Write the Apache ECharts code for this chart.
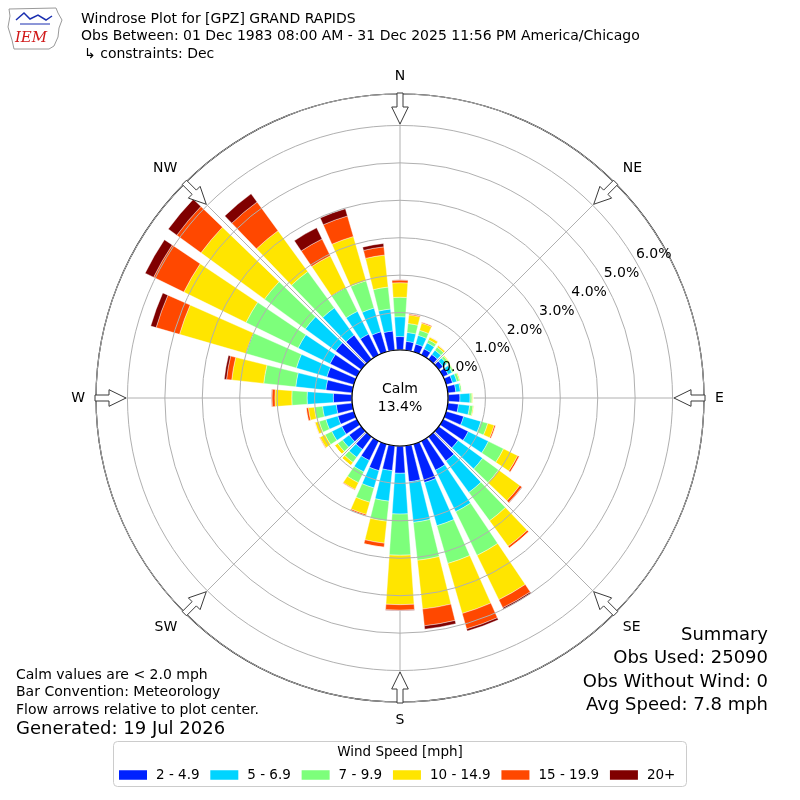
<!DOCTYPE html>
<html><head><meta charset="utf-8">
<script src="https://cdn.jsdelivr.net/npm/echarts@6/dist/echarts.min.js"></script>
<style>html,body{margin:0;padding:0;background:#fff}#c{width:800px;height:800px}</style>
</head><body><div id="c"></div>
<script>
// ---------------- data ----------------
const directions = [0,10,20,30,40,50,60,70,80,90,100,110,120,130,140,150,160,170,180,190,200,210,220,230,240,250,260,270,280,290,300,310,320,330,340,350];
const speedBins = ['2 - 4.9','5 - 6.9','7 - 9.9','10 - 14.9','15 - 19.9','20+'];
const binColors = ['#0022ff','#00d4ff','#7dff7b','#ffe500','#ff4800','#800000'];
// percent frequency per direction for each speed bin
const spd2to5   = [0.36,0.24,0.22,0.18,0.16,0.14,0.15,0.18,0.22,0.32,0.29,0.49,0.75,0.64,0.80,0.87,1.07,0.97,0.73,0.67,0.74,0.58,0.42,0.40,0.45,0.45,0.43,0.50,0.71,0.75,0.80,0.85,0.80,0.62,0.56,0.52];
const spd5to7   = [0.53,0.24,0.24,0.18,0.14,0.12,0.12,0.12,0.12,0.27,0.30,0.48,0.60,0.81,1.04,1.23,1.20,1.09,1.09,0.82,0.48,0.34,0.26,0.22,0.30,0.33,0.37,0.70,0.81,0.85,0.95,1.00,0.90,0.68,0.66,0.59];
const spd7to10  = [0.52,0.24,0.14,0.09,0.10,0.07,0.05,0.07,0.04,0.05,0.09,0.19,0.45,0.53,0.94,1.30,1.05,1.02,1.10,0.54,0.40,0.32,0.17,0.16,0.20,0.19,0.22,0.41,0.86,1.40,1.55,1.35,1.20,0.70,0.76,0.59];
const spd10to15 = [0.39,0.23,0.20,0.08,0.05,0.03,0.02,0.03,0.01,0.03,0.03,0.18,0.42,0.70,0.84,1.32,1.39,1.31,1.32,0.59,0.34,0.20,0.10,0.10,0.15,0.11,0.16,0.45,0.86,1.85,1.85,2.10,1.35,0.95,1.23,0.86];
const spd15to20 = [0.07,0.03,0.03,0.01,0.01,0.00,0.00,0.00,0.00,0.00,0.00,0.04,0.05,0.07,0.06,0.24,0.43,0.45,0.15,0.11,0.04,0.02,0.00,0.00,0.02,0.01,0.06,0.08,0.14,0.65,0.90,0.80,0.95,0.50,0.57,0.22];
const spd20plus = [0.01,0.00,0.00,0.00,0.00,0.00,0.00,0.00,0.00,0.00,0.00,0.00,0.00,0.01,0.00,0.04,0.06,0.09,0.01,0.00,0.00,0.00,0.00,0.00,0.00,0.00,0.00,0.01,0.06,0.15,0.25,0.28,0.27,0.33,0.20,0.09];
const compassLabels = ['N','NE','E','SE','S','SW','W','NW'];
const radiusTickStep = 1;      // percent
const radiusMax = 6.84;        // percent at outer circle
const calmPct = 13.4;
const titleLines = ['Windrose Plot for [GPZ] GRAND RAPIDS',
  'Obs Between: 01 Dec 1983 08:00 AM - 31 Dec 2025 11:56 PM America/Chicago',
  '\u21b3 constraints: Dec'];
const noteLines = ['Calm values are < 2.0 mph','Bar Convention: Meteorology','Flow arrows relative to plot center.'];
const generatedText = 'Generated: 19 Jul 2026';
const summaryLines = ['Summary','Obs Used: 25090','Obs Without Wind: 0','Avg Speed: 7.8 mph'];
const legendTitle = 'Wind Speed [mph]';

// ---------------- layout ----------------
const CX = 400, CY = 398, R_IN = 48, R_OUT = 304, LBL_SHIFT = 19;
const FONT = 'DejaVu Sans';
const seriesData = [spd2to5, spd5to7, spd7to10, spd10to15, spd15to20, spd20plus];

const chart = echarts.init(document.getElementById('c'), null, {renderer: 'canvas'});

function arrowPoints(deg) {
  const t = deg * Math.PI / 180, s = Math.sin(t), c = Math.cos(t);
  const pts = [[274,0],[291,8.3],[291,3],[305,3],[305,-3],[291,-3],[291,-8.3]];
  return pts.map(([u, v]) => [CX + u * s + v * c, CY - u * c + v * s]);
}

const graphics = [];
// arrows
for (let i = 0; i < 8; i++) {
  graphics.push({type: 'polygon', z: 100, shape: {points: arrowPoints(i * 45)},
    style: {fill: '#fff', stroke: '#3a3a3a', lineWidth: 1}});
}
// calm circle
graphics.push({type: 'circle', z: 100, shape: {cx: CX, cy: CY, r: R_IN}, style: {fill: '#fff', stroke: '#000', lineWidth: 1.2}});
graphics.push({type: 'text', z: 101, x: CX, y: CY, style: {text: 'Calm\n' + calmPct.toFixed(1) + '%', font: '14px ' + FONT, fill: '#000', align: 'center', verticalAlign: 'middle', lineHeight: 18}});
// titles
titleLines.forEach((t, i) => graphics.push({type: 'text', x: i === 2 ? 84 : 81, y: 19 + i * 17.5,
  style: {text: t, font: '14px ' + FONT, fill: '#000', verticalAlign: 'middle'}}));
// notes
noteLines.forEach((t, i) => graphics.push({type: 'text', x: 16, y: 675 + i * 17.5,
  style: {text: t, font: '14px ' + FONT, fill: '#000', verticalAlign: 'middle'}}));
graphics.push({type: 'text', x: 16, y: 729, style: {text: generatedText, font: '18px ' + FONT, fill: '#000', verticalAlign: 'middle'}});
summaryLines.forEach((t, i) => graphics.push({type: 'text', x: 768, y: 635 + i * 23.5,
  style: {text: t, font: '18px ' + FONT, fill: '#000', align: 'right', verticalAlign: 'middle'}}));
// legend frame + title
graphics.push({type: 'rect', shape: {x: 113.5, y: 741.5, width: 573, height: 45, r: 4}, style: {fill: '#fff', stroke: '#cccccc', lineWidth: 1}, z: 0});
graphics.push({type: 'text', x: 400, y: 752, z: 5, style: {text: legendTitle, font: '13.5px ' + FONT, fill: '#000', align: 'center', verticalAlign: 'middle'}});
// logo (simplified)
graphics.push({type: 'polygon', shape: {points: [[9,9],[56,8],[58,13],[62,20],[59,28],[58,37],[54,46],[49,49],[14,49],[12,40],[8,27],[10,16]]},
  style: {fill: '#fff', stroke: '#9a9a9a', lineWidth: 1}});
graphics.push({type: 'polyline', shape: {points: [[16,20],[24,13],[30,19],[38,15],[46,20],[52,16]]}, style: {stroke: '#1a2fb0', lineWidth: 1.5, fill: null}});
graphics.push({type: 'polyline', shape: {points: [[20,24],[50,24]]}, style: {stroke: '#1a2fb0', lineWidth: 1, fill: null}});
graphics.push({type: 'text', x: 31, y: 38, style: {text: 'IEM', font: 'italic 15px "DejaVu Serif"', fill: '#d01818', align: 'center', verticalAlign: 'middle'}});

const option = {
  animation: false,
  backgroundColor: '#fff',
  textStyle: {fontFamily: FONT},
  polar: [
    {center: [CX, CY], radius: [R_IN, R_OUT]},
    {center: [CX, CY], radius: [R_IN, R_OUT]},
    {center: [CX, CY], radius: [R_IN + LBL_SHIFT, R_OUT + LBL_SHIFT]}
  ],
  angleAxis: [
    {polarIndex: 0, type: 'category', data: directions.map(String), startAngle: 95, clockwise: true, boundaryGap: true,
      axisLine: {show: false}, axisTick: {show: false}, axisLabel: {show: false}, splitLine: {show: false}},
    {polarIndex: 1, type: 'value', min: 0, max: 360, interval: 45, startAngle: 90, clockwise: true, z: 1,
      axisLine: {show: true, lineStyle: {color: '#000', width: 1.2}}, axisTick: {show: false},
      axisLabel: {show: true, margin: 11, fontSize: 14, fontFamily: FONT, color: '#000', align: 'center', verticalAlign: 'middle',
        formatter: v => v >= 360 ? '' : compassLabels[Math.round(v / 45)]},
      splitLine: {show: true, lineStyle: {color: '#b0b0b0', width: 1}}},
    {polarIndex: 2, type: 'value', min: 0, max: 360, startAngle: 30.3, show: false}
  ],
  radiusAxis: [
    {polarIndex: 0, type: 'value', min: 0, max: radiusMax, interval: radiusTickStep, z: 3,
      axisLine: {show: false}, axisTick: {show: false}, axisLabel: {show: false},
      splitLine: {show: true, lineStyle: {color: '#b0b0b0', width: 1}}},
    {polarIndex: 1, type: 'value', min: 0, max: radiusMax, show: false},
    {polarIndex: 2, type: 'value', min: 0, max: radiusMax, interval: radiusTickStep, z: 5,
      axisLine: {show: false}, axisTick: {show: false}, splitLine: {show: false},
      axisLabel: {show: true, margin: -4, align: 'center', verticalAlign: 'middle', fontSize: 14, fontFamily: FONT, color: '#000',
        formatter: v => Math.abs(v - Math.round(v)) < 1e-6 ? v.toFixed(1) + '%' : ''}}
  ],
  legend: {
    data: speedBins, left: 114, top: 763, padding: [5, 5, 5, 5], itemWidth: 28, itemHeight: 9.5, itemGap: 10.8, icon: 'rect',
    textStyle: {fontSize: 13.5, fontFamily: FONT, color: '#000', padding: [0, 0, 0, 4]},
    itemStyle: {borderWidth: 0}, selectedMode: false
  },
  series: speedBins.map((name, k) => ({
    name, type: 'bar', coordinateSystem: 'polar', polarIndex: 0, stack: 'wind',
    data: seriesData[k], barCategoryGap: '22%',
    itemStyle: {color: binColors[k], borderColor: '#fff', borderWidth: 0.4},
    emphasis: {disabled: true}, silent: true, z: 2
  })),
  graphic: graphics
};
chart.setOption(option);
</script></body></html>
